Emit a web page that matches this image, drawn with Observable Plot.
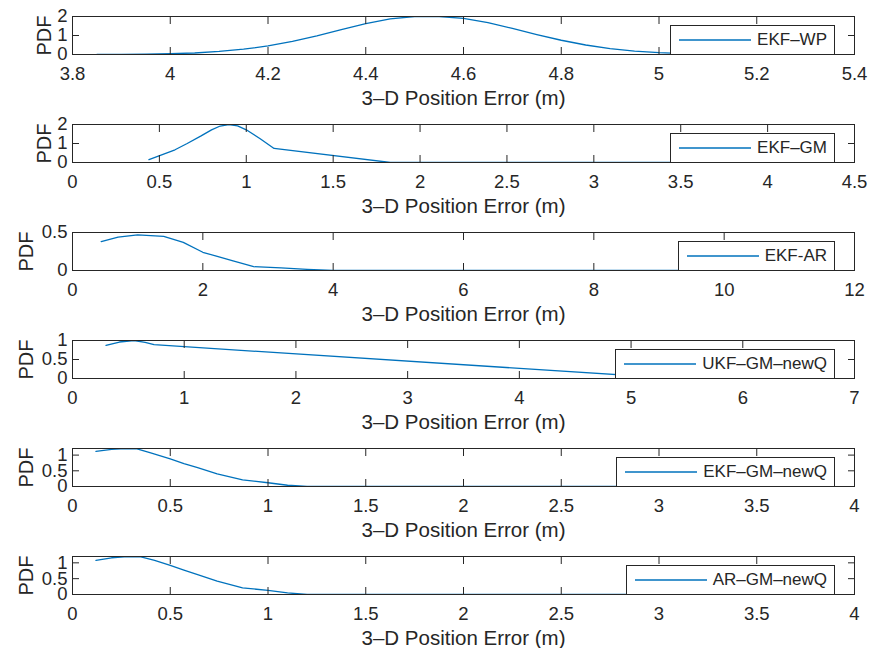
<!DOCTYPE html>
<html><head><meta charset="utf-8">
<script src="https://cdn.jsdelivr.net/npm/d3@7"></script>
<script src="https://cdn.jsdelivr.net/npm/@observablehq/plot@0.6"></script>
<style>
body{margin:0;background:#fff;font-family:"Liberation Sans",Arial,sans-serif;}
#chart{width:870px;}
.panel{position:relative;width:870px;height:108px;}
.panel svg{display:block;}
.legend{position:absolute;right:35px;top:25px;height:30px;box-sizing:border-box;border:1px solid #262626;background:#fff;display:flex;align-items:center;padding:0 7px 0 8px;font-size:17px;color:#262626;white-space:nowrap;font-family:"Liberation Sans",Arial,sans-serif;}
.legend svg{margin-right:6px;display:block;}
</style></head><body><div id="chart"></div>
<script>
// ---- labels ----
const xLabel = "3–D Position Error (m)";
const yLabel = "PDF";
const seriesNames = ["EKF–WP", "EKF–GM", "EKF-AR", "UKF–GM–newQ", "EKF–GM–newQ", "AR–GM–newQ"];

// ---- series values ----
const wpX = [3.85,3.9,3.95,4.0,4.05,4.1,4.15,4.2,4.25,4.3,4.35,4.4,4.45,4.5,4.55,4.6,4.65,4.7,4.75,4.8,4.85,4.9,4.95,5.0,5.05,5.1,5.15,5.2];
const wpY = [0.003,0.008,0.02,0.04,0.08,0.16,0.28,0.45,0.69,0.98,1.31,1.62,1.87,2.0,2.0,1.9,1.68,1.37,1.05,0.75,0.5,0.31,0.18,0.1,0.05,0.02,0.01,0.005];

const gmX = [0.44,0.59,0.66,0.74,0.8,0.85,0.9,0.95,1.0,1.08,1.16,1.83,3.5];
const gmY = [0.15,0.67,1.0,1.4,1.72,1.92,1.99,1.93,1.72,1.25,0.74,0.0,0.0];

const arX = [0.44,0.7,1.0,1.4,1.7,2.0,2.45,2.78,3.2,3.6,4.0,9.5];
const arY = [0.38,0.44,0.47,0.45,0.37,0.24,0.13,0.05,0.035,0.015,0.0,0.0];

const ukfX = [0.3,0.42,0.55,0.65,0.73,5.3];
const ukfY = [0.87,0.96,1.0,0.95,0.89,0.02];

const ekfQX = [0.12,0.2,0.27,0.33,0.4,0.5,0.57,0.64,0.74,0.87,1.0,1.1,1.2,2.85];
const ekfQY = [1.12,1.18,1.21,1.2,1.07,0.88,0.73,0.6,0.4,0.21,0.12,0.04,0.0,0.0];

const arQX = [0.12,0.2,0.28,0.35,0.42,0.5,0.57,0.64,0.74,0.87,1.0,1.1,1.2,2.9];
const arQY = [1.08,1.16,1.2,1.19,1.08,0.92,0.77,0.63,0.42,0.21,0.13,0.05,0.0,0.0];

// ---- axis domains & ticks ----
const xDomains = [[3.8,5.4],[0,4.5],[0,12],[0,7],[0,4],[0,4]];
const yDomains = [[0,2],[0,2],[0,0.5],[0,1],[0,1.21],[0,1.2]];
const xTicks = [
  [3.8,4,4.2,4.4,4.6,4.8,5,5.2,5.4],
  [0,0.5,1,1.5,2,2.5,3,3.5,4,4.5],
  [0,2,4,6,8,10,12],
  [0,1,2,3,4,5,6,7],
  [0,0.5,1,1.5,2,2.5,3,3.5,4],
  [0,0.5,1,1.5,2,2.5,3,3.5,4]
];
const yTicks = [[0,1,2],[0,1,2],[0,0.5],[0,0.5,1],[0,0.5,1],[0,0.5,1]];

const seriesX = [wpX, gmX, arX, ukfX, ekfQX, arQX];
const seriesY = [wpY, gmY, arY, ukfY, ekfQY, arQY];

const lineColor = "#0072BD";
const ink = "#262626";
const font = "'Liberation Sans', Arial, sans-serif";
const fmt = d => String(d);

const chart = document.getElementById("chart");

seriesNames.forEach((name, i) => {
  const data = seriesX[i].map((x, j) => ({x, y: seriesY[i][j]}));
  const decimalTicks = yTicks[i].some(t => !Number.isInteger(t));
  const panel = document.createElement("div");
  panel.className = "panel";
  const svg = Plot.plot({
    width: 870, height: 108,
    marginLeft: 72, marginRight: 16, marginTop: 16, marginBottom: 54,
    style: {fontFamily: font, fontSize: "18.5px", color: ink, background: "transparent", overflow: "visible"},
    x: {domain: xDomains[i]},
    y: {domain: yDomains[i]},
    marks: [
      Plot.line(data, {x: "x", y: "y", stroke: lineColor, strokeWidth: 1.3, clip: true}),
      Plot.axisX(xTicks[i], {anchor: "bottom", tickSize: -7, tickPadding: 19, label: null, fontSize: 18.5, tickFormat: fmt}),
      Plot.axisX(xTicks[i], {anchor: "top", tickSize: -7, tickFormat: () => "", label: null}),
      Plot.axisY(yTicks[i], {anchor: "left", tickSize: -7, tickPadding: 12, label: null, fontSize: 18.5, tickFormat: fmt}),
      Plot.axisY(yTicks[i], {anchor: "right", tickSize: -7, tickFormat: () => "", label: null}),
      Plot.frame({stroke: ink, strokeWidth: 1}),
      Plot.text([xLabel], {text: d => d, frameAnchor: "bottom", textAnchor: "middle", dy: 50, lineAnchor: "bottom", fontSize: 20.5, fill: ink}),
      Plot.text([yLabel], {text: d => d, frameAnchor: "left", textAnchor: "middle", lineAnchor: "middle", dx: decimalTicks ? -46 : -28, rotate: -90, fontSize: 20, fill: ink})
    ]
  });
  panel.appendChild(svg);
  const leg = document.createElement("div");
  leg.className = "legend";
  leg.innerHTML = `<svg width="72" height="4"><line x1="0" y1="2" x2="72" y2="2" stroke="${lineColor}" stroke-width="1.3"/></svg><span>${name}</span>`;
  panel.appendChild(leg);
  chart.appendChild(panel);
});
</script>
</body></html>
